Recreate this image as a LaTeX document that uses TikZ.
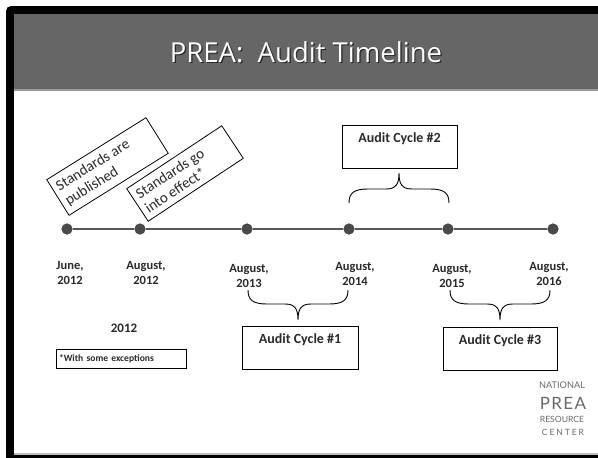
\documentclass[tikz,border=0pt]{standalone}
\usepackage{fontspec}
\setmainfont{Carlito}
\newfontfamily\logofont{Lato}
\newfontfamily\titlefont{Open Sans}
\definecolor{hdr}{HTML}{666666}
\definecolor{hdrline}{HTML}{9A9A9A}
\definecolor{tline}{HTML}{585858}
\definecolor{dotc}{HTML}{4A4A4A}
\definecolor{txt}{HTML}{2A2A2A}
\definecolor{logoc}{HTML}{6A6A6A}
\tikzset{
  dot/.style={circle, fill=dotc, draw=black!75, line width=0.6pt, inner sep=0pt, minimum size=10.5pt},
  tl/.style={draw=tline, line width=2.2pt},
  datelbl/.style={align=center, text=txt, font=\bfseries\fontsize{12.5}{15.5}\selectfont, inner sep=0pt},
  cyclebox/.style={draw=black, line width=0.8pt, text=txt, font=\bfseries\fontsize{14}{16}\selectfont,
     minimum width=#1, inner xsep=2pt, inner ysep=3pt, text height=14pt, text depth=23pt},
  tiltbox/.style={draw=black, line width=0.8pt, text=txt, align=flush left, inner xsep=5pt, inner ysep=3pt,
     font=\fontsize{15}{17}\selectfont},
  bracel/.style={draw=black, line width=0.9pt},
  cbrace/.pic={\draw[bracel] (-50,0) .. controls (-50,10) and (-45,14) .. (-31,14) -- (-13,14)
      .. controls (-3,14) and (0,19) .. (0,30) .. controls (0,19) and (3,14) .. (13,14) -- (31,14)
      .. controls (45,14) and (50,10) .. (50,0);},
  logotxt/.style={text=logoc, inner sep=0pt, anchor=base},
  titletxt/.style={anchor=base, font=\titlefont\fontsize{27.5}{30}\selectfont, inner sep=0pt}
}
\begin{document}
\begin{tikzpicture}[x=1pt,y=-1pt]
\useasboundingbox (0,0) rectangle (598,458);
\fill[white] (0,0) rectangle (598,458);
% frame
\fill[black] (6,458) [rounded corners=5pt] -- (6,6) [sharp corners] -- (598,6) -- (598,458) -- cycle;
\fill[white] (14,14) rectangle (598,455);
\fill[hdr] (14,14) rectangle (598,89);
\fill[hdrline] (14,89) rectangle (598,91);
\fill[black!25] (14,453) rectangle (598,455);
% title
\node[titletxt, text=black!85] (titleshadow) at (307.2,63.2) {PREA:\ \ Audit Timeline};
\node[titletxt, text=white] (title) at (306,62) {PREA:\ \ Audit Timeline};

% timeline
\node[dot] (d1) at (67,229) {};
\node[dot] (d2) at (140,229) {};
\node[dot] (d3) at (247,229) {};
\node[dot] (d4) at (349,229) {};
\node[dot] (d5) at (448,229) {};
\node[dot] (d6) at (553,229) {};
\draw[tl] (d1) -- (d2) -- (d3) -- (d4) -- (d5) -- (d6);

% date labels
\node[datelbl] (l1) at (70,273) {June,\\2012};
\node[datelbl] (l2) at (146,273) {August,\\2012};
\node[datelbl] (l3) at (249,276) {August,\\2013};
\node[datelbl] (l4) at (355,274) {August,\\2014};
\node[datelbl] (l5) at (452,276) {August,\\2015};
\node[datelbl] (l6) at (549,274) {August,\\2016};

% tilted boxes
\node[tiltbox, rotate=32, minimum width=117pt, minimum height=42pt, text width=107pt] (pub) at (107.5,166.5) {Standards are\\published};
\node[tiltbox, rotate=33.5, minimum width=114pt, minimum height=39pt, text width=104pt] (eff) at (185,173.5) {Standards go\\into effect*};

% braces
\pic at (298,290) {cbrace};
\pic at (500,290) {cbrace};
\pic[yscale=-1] at (399,203) {cbrace};

% cycle boxes
\node[cyclebox=116pt, anchor=north] (c1) at (300,326) {Audit Cycle \#1};
\node[cyclebox=115pt, anchor=north] (c2) at (399.5,125) {Audit Cycle \#2};
\node[cyclebox=114pt, anchor=north] (c3) at (500,327) {Audit Cycle \#3};

% 2012 and footnote
\node[text=txt, font=\bfseries\fontsize{13}{15}\selectfont, inner sep=0pt] (y2012) at (124,328) {2012};
\node[draw=black, line width=0.8pt, minimum width=130pt, minimum height=19pt, text width=124pt, align=left,
  inner xsep=3pt, text=txt, font=\bfseries\fontsize{9.6}{11}\selectfont] (note) at (121,358.5) {*With some exceptions};

% logo
\node[logotxt, font=\logofont\fontsize{9.2}{10}\selectfont] (lg1) at (562,388) {NATIONAL};
\node[logotxt, font=\logofont\fontsize{17}{18}\selectfont\addfontfeatures{LetterSpace=8}] (lg2) at (563,409) {PREA};
\node[logotxt, font=\logofont\fontsize{8.6}{10}\selectfont] (lg3) at (562,422) {RESOURCE};
\node[logotxt, font=\logofont\fontsize{8.6}{10}\selectfont\addfontfeatures{LetterSpace=22}] (lg4) at (563,435) {CENTER};
\end{tikzpicture}
\end{document}
